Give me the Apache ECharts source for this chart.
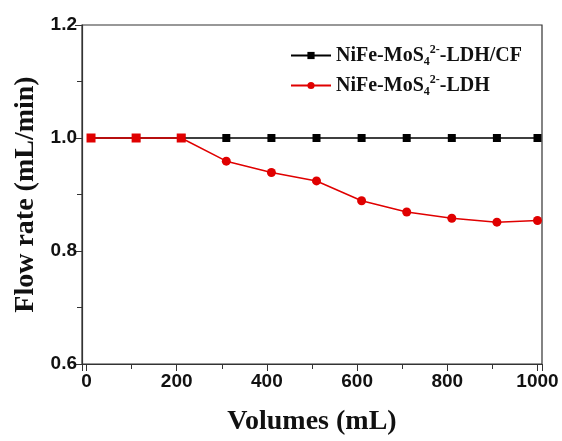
<!DOCTYPE html>
<html>
<head>
<meta charset="utf-8">
<script src="https://cdn.jsdelivr.net/npm/echarts@6/dist/echarts.min.js"></script>
<style>html,body{margin:0;padding:0;background:#fff;}#c{width:562px;height:441px;}</style>
</head>
<body>
<div id="c"></div>
<script>
var volumes = [10, 110, 210, 310, 410, 510, 610, 710, 810, 910, 1000];
var cfRate = [1.0, 1.0, 1.0, 1.0, 1.0, 1.0, 1.0, 1.0, 1.0, 1.0, 1.0];
var ldhRate = [1.0, 1.0, 1.0, 0.959, 0.939, 0.924, 0.889, 0.869, 0.858, 0.851, 0.854];
var seriesNames = ['NiFe-MoS4 2- -LDH/CF', 'NiFe-MoS4 2- -LDH'];
var legendRich = [
  '{a|NiFe-MoS}{sub|4}{sup|2-}{a|-LDH/CF}',
  '{a|NiFe-MoS}{sub|4}{sup|2-}{a|-LDH}'
];
var xLabel = 'Volumes (mL)';
var yLabel = 'Flow rate (mL/min)';

var chart = echarts.init(document.getElementById('c'));
var tickFont = {fontFamily: 'Liberation Sans, Arial, sans-serif', fontWeight: 'bold', fontSize: 19, color: '#111'};
var nameFont = {fontFamily: 'Liberation Serif, Times New Roman, serif', fontWeight: 'bold', fontSize: 28, color: '#111'};
var serif = 'Liberation Serif, Times New Roman, serif';

chart.setOption({
  animation: false,
  grid: {left: 82, right: 20, top: 25, bottom: 76, show: true, borderColor: '#333', borderWidth: 1.2},
  legend: {
    top: 39, left: 285, orient: 'vertical', itemGap: 6, itemWidth: 40, itemHeight: 9,
    data: seriesNames,
    formatter: function (n) { return legendRich[seriesNames.indexOf(n)]; },
    textStyle: {
      rich: {
        a: {fontFamily: serif, fontWeight: 'bold', fontSize: 20, color: '#111'},
        sub: {fontFamily: serif, fontWeight: 'bold', fontSize: 12, color: '#111', padding: [13, 0, 0, 0]},
        sup: {fontFamily: serif, fontWeight: 'bold', fontSize: 12, color: '#111', padding: [0, 0, 11, 0]}
      }
    }
  },
  xAxis: {
    type: 'value', min: -10, max: 1010, splitNumber: 5,
    name: xLabel, nameLocation: 'middle', nameGap: 44, nameTextStyle: nameFont,
    axisLine: {onZero: false, lineStyle: {color: '#333', width: 1.2}},
    axisTick: {inside: false, length: 7, lineStyle: {color: '#333'}},
    minorTick: {show: true, splitNumber: 2, length: 5, lineStyle: {color: '#333'}},
    splitLine: {show: false},
    axisLabel: Object.assign({margin: 8, formatter: function (v) { return v % 200 === 0 ? String(v) : ''; }}, tickFont)
  },
  yAxis: {
    type: 'value', min: 0.6, max: 1.2, interval: 0.2,
    name: yLabel, nameLocation: 'middle', nameGap: 41, nameTextStyle: nameFont,
    axisLine: {show: true, onZero: false, lineStyle: {color: '#333', width: 1.2}},
    axisTick: {inside: false, length: 7, lineStyle: {color: '#333'}},
    minorTick: {show: true, splitNumber: 2, length: 5, lineStyle: {color: '#333'}},
    splitLine: {show: false},
    axisLabel: Object.assign({margin: 5, formatter: function (v) { return v.toFixed(1); }}, tickFont)
  },
  series: [
    {
      name: seriesNames[0], type: 'line', symbol: 'rect', symbolSize: 8,
      color: '#000', lineStyle: {color: '#000', width: 1.5},
      data: volumes.map(function (x, i) { return [x, cfRate[i]]; }),
      z: 2
    },
    {
      name: seriesNames[1], type: 'line', symbol: 'circle', symbolSize: 9,
      color: '#e00000', lineStyle: {color: '#e00000', width: 1.5},
      data: volumes.map(function (x, i) {
        return i < 3 ? {value: [x, ldhRate[i]], symbol: 'rect'} : [x, ldhRate[i]];
      }),
      z: 3
    }
  ]
});
</script>
</body>
</html>
